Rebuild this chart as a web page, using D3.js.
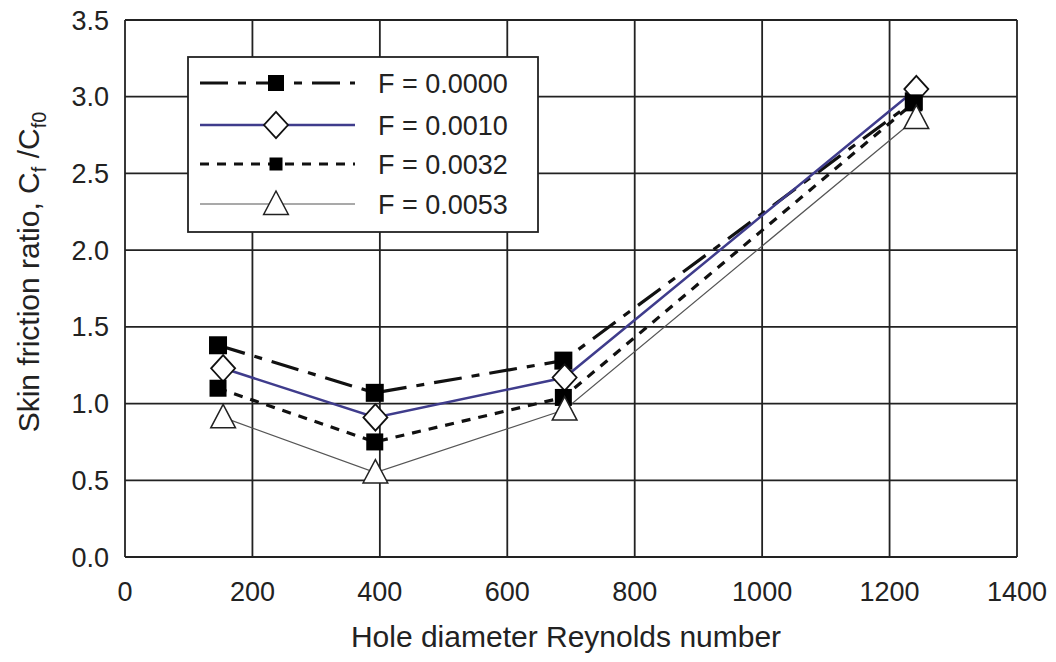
<!DOCTYPE html>
<html>
<head>
<meta charset="utf-8">
<script src="https://cdn.jsdelivr.net/npm/d3@7"></script>
<style>
  body { margin: 0; background: #fff; }
  svg text { font-family: "Liberation Sans", Arial, sans-serif; fill: #222; }
</style>
</head>
<body>
<svg width="1056" height="662"></svg>
<script>
// data
var labels = ["F = 0.0000", "F = 0.0010", "F = 0.0032", "F = 0.0053"];
var re0000 = [146, 392, 688, 1238], cf0000 = [1.38, 1.07, 1.28, 2.97];
var re0010 = [154, 393, 690, 1242], cf0010 = [1.23, 0.91, 1.17, 3.05];
var re0032 = [146, 392, 688, 1238], cf0032 = [1.10, 0.75, 1.04, 2.96];
var re0053 = [154, 393, 690, 1242], cf0053 = [0.91, 0.55, 0.96, 2.86];
var xTicks = [0, 200, 400, 600, 800, 1000, 1200, 1400];
var yTicks = [0, 0.5, 1, 1.5, 2, 2.5, 3, 3.5];

var series = [
  {name: labels[0], re: re0000, cf: cf0000, color: "#111", width: 3.2, dash: "28,10,8,10", marker: "sq", size: 18, lsize: 16},
  {name: labels[1], re: re0010, cf: cf0010, color: "#3f3c8c", width: 2.5, dash: null, marker: "dia", size: 12, lsize: 12},
  {name: labels[2], re: re0032, cf: cf0032, color: "#111", width: 3.2, dash: "9,8", marker: "sq", size: 17, lsize: 13},
  {name: labels[3], re: re0053, cf: cf0053, color: "#555", width: 1.2, dash: null, marker: "tri", size: 13, lsize: 13}
];

var svg = d3.select("svg");
var x = d3.scaleLinear().domain([0, 1400]).range([125, 1017]);
var y = d3.scaleLinear().domain([0, 3.5]).range([557, 20]);

var g = svg.append("g");

// grid
g.selectAll(".vg").data(xTicks).enter().append("line")
  .attr("x1", d => x(d)).attr("x2", d => x(d))
  .attr("y1", y(0)).attr("y2", y(3.5))
  .attr("stroke", "#222").attr("stroke-width", 1.8);
g.selectAll(".hg").data(yTicks).enter().append("line")
  .attr("y1", d => y(d)).attr("y2", d => y(d))
  .attr("x1", x(0)).attr("x2", x(1400))
  .attr("stroke", "#222").attr("stroke-width", 1.8);

// tick labels
g.selectAll(".xt").data(xTicks).enter().append("text")
  .attr("x", d => x(d)).attr("y", 601)
  .attr("text-anchor", "middle").attr("font-size", 27)
  .text(d => d);
g.selectAll(".yt").data(yTicks).enter().append("text")
  .attr("x", 109).attr("y", d => y(d) + 9.5)
  .attr("text-anchor", "end").attr("font-size", 27)
  .text(d => d.toFixed(1));

// axis titles
svg.append("text").attr("x", 566).attr("y", 647)
  .attr("text-anchor", "middle").attr("font-size", 30)
  .text("Hole diameter Reynolds number");

var yl = svg.append("text")
  .attr("transform", "translate(39,272) rotate(-90)")
  .attr("text-anchor", "middle").attr("font-size", 30);
yl.append("tspan").text("Skin friction ratio, C");
yl.append("tspan").attr("font-size", 20).attr("dy", 7).text("f");
yl.append("tspan").attr("dy", -7).text(" /C");
yl.append("tspan").attr("font-size", 20).attr("dy", 7).text("f0");

function marker(sel, s, sz) {
  if (s.marker == "sq") {
    sel.append("rect")
      .attr("x", -sz / 2).attr("y", -sz / 2)
      .attr("width", sz).attr("height", sz)
      .attr("fill", "#000");
  } else if (s.marker == "dia") {
    sel.append("path")
      .attr("d", "M0," + (-sz * 1.1) + "L" + sz + ",0L0," + (sz * 1.1) + "L" + (-sz) + ",0Z")
      .attr("fill", "#fff").attr("stroke", "#111").attr("stroke-width", 1.8);
  } else {
    sel.append("path")
      .attr("d", "M0," + (-sz) + "L" + (sz * 0.95) + "," + (sz * 0.8) + "L" + (-sz * 0.95) + "," + (sz * 0.8) + "Z")
      .attr("fill", "#fff").attr("stroke", "#222").attr("stroke-width", 1.5);
  }
}

var line = d3.line().x(d => x(d[0])).y(d => y(d[1]));

series.forEach(function(s) {
  var pts = s.re.map((r, i) => [r, s.cf[i]]);
  g.append("path").datum(pts)
    .attr("d", line)
    .attr("fill", "none")
    .attr("stroke", s.color)
    .attr("stroke-width", s.width)
    .attr("stroke-dasharray", s.dash);
});
series.forEach(function(s) {
  var pts = s.re.map((r, i) => [r, s.cf[i]]);
  pts.forEach(function(p) {
    var m = g.append("g").attr("transform", "translate(" + x(p[0]) + "," + y(p[1]) + ")");
    marker(m, s, s.size);
  });
});

// legend
var lg = svg.append("g");
lg.append("rect").attr("x", 188).attr("y", 57).attr("width", 350).attr("height", 175)
  .attr("fill", "#fff").attr("stroke", "#222").attr("stroke-width", 1.8);
var rowY = [83, 125, 164, 204];
series.forEach(function(s, i) {
  lg.append("line")
    .attr("x1", 200).attr("x2", 355)
    .attr("y1", rowY[i]).attr("y2", rowY[i])
    .attr("stroke", s.color).attr("stroke-width", s.width)
    .attr("stroke-dasharray", s.dash);
  var m = lg.append("g").attr("transform", "translate(276," + rowY[i] + ")");
  marker(m, s, s.lsize);
  lg.append("text").attr("x", 378).attr("y", rowY[i] + 10)
    .attr("font-size", 27).text(s.name);
});
</script>
</body>
</html>
